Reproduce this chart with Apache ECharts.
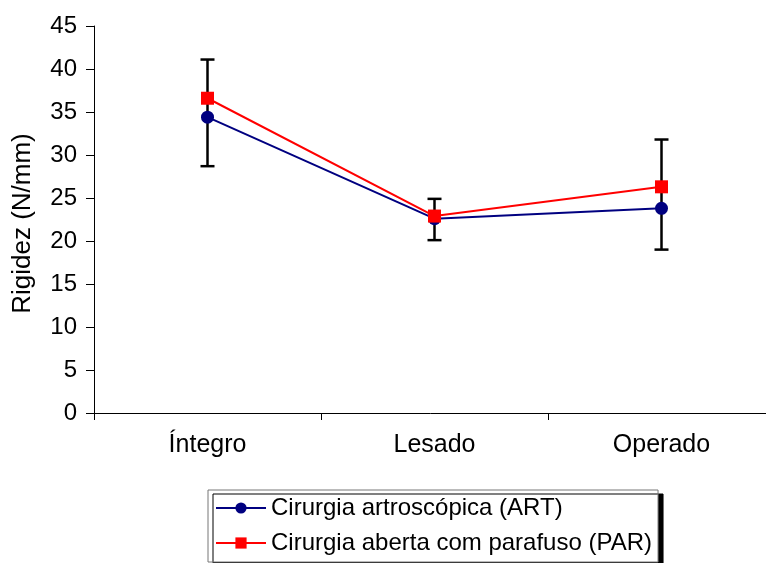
<!DOCTYPE html>
<html>
<head>
<meta charset="utf-8">
<script src="https://cdn.jsdelivr.net/npm/echarts@6/dist/echarts.min.js"></script>
<style>
  html, body { margin: 0; padding: 0; background: #fff; }
  #chart { width: 766px; height: 563px; }
</style>
</head>
<body>
<div id="chart"></div>
<script>
// dados
const categorias = ['Íntegro', 'Lesado', 'Operado'];
const art = [34.4, 22.6, 23.8];
const par = [36.6, 22.9, 26.3];
const erroAlto = [41.1, 24.9, 31.8];
const erroBaixo = [28.7, 20.1, 19.0];

const fonte = '"Liberation Sans", Arial, sans-serif';

const myChart = echarts.init(document.getElementById('chart'));

const errorData = categorias.map((c, i) => [i, erroBaixo[i], erroAlto[i]]);

const option = {
  animation: false,
  textStyle: { fontFamily: fonte },
  grid: {
    left: 94,
    top: 26,
    width: 681,
    bottom: 150,
    containLabel: false,
    outerBoundsMode: 'none'
  },
  legend: {
    orient: 'vertical',
    left: 208,
    top: 490,
    itemWidth: 50,
    itemHeight: 14,
    itemGap: 11,
    padding: [6, 6, 7, 7],
    backgroundColor: '#fff',
    borderColor: '#777',
    borderWidth: 1,
    shadowColor: '#000',
    shadowBlur: 0,
    shadowOffsetX: 5,
    shadowOffsetY: 4,
    textStyle: { fontFamily: fonte, fontSize: 24, color: '#000' },
    data: ['Cirurgia artroscópica (ART)', 'Cirurgia aberta com parafuso (PAR)']
  },
  xAxis: {
    type: 'category',
    data: categorias,
    boundaryGap: true,
    axisLine: { lineStyle: { color: '#000', width: 1 } },
    axisTick: { show: true, length: 7, alignWithLabel: false, lineStyle: { color: '#000' } },
    axisLabel: { color: '#000', fontSize: 25, margin: 20, fontFamily: fonte },
    splitLine: { show: false }
  },
  yAxis: {
    type: 'value',
    min: 0,
    max: 45,
    interval: 5,
    name: 'Rigidez (N/mm)',
    nameLocation: 'middle',
    nameRotate: 90,
    nameGap: 58,
    nameTextStyle: { color: '#000', fontSize: 26, fontFamily: fonte, padding: [0, 8, 0, 0] },
    axisLine: { show: true, lineStyle: { color: '#000', width: 1 } },
    axisTick: { show: true, length: 8, lineStyle: { color: '#000' } },
    axisLabel: { color: '#000', fontSize: 24, margin: 17, fontFamily: fonte },
    splitLine: { show: false }
  },
  series: [
    {
      type: 'custom',
      name: 'erro',
      z: 1,
      silent: true,
      data: errorData,
      renderItem: function (params, api) {
        const x = api.value(0);
        const lo = api.coord([x, api.value(1)]);
        const hi = api.coord([x, api.value(2)]);
        const half = 7;
        const style = { stroke: '#000', lineWidth: 2.5 };
        return {
          type: 'group',
          children: [
            { type: 'line', shape: { x1: hi[0], y1: hi[1], x2: lo[0], y2: lo[1] }, style },
            { type: 'line', shape: { x1: hi[0] - half, y1: hi[1], x2: hi[0] + half, y2: hi[1] }, style },
            { type: 'line', shape: { x1: lo[0] - half, y1: lo[1], x2: lo[0] + half, y2: lo[1] }, style }
          ]
        };
      }
    },
    {
      name: 'Cirurgia artroscópica (ART)',
      type: 'line',
      z: 3,
      data: art,
      symbol: 'circle',
      symbolSize: 13,
      lineStyle: { color: '#000080', width: 2 },
      itemStyle: { color: '#000080' }
    },
    {
      name: 'Cirurgia aberta com parafuso (PAR)',
      type: 'line',
      z: 4,
      data: par,
      symbol: 'rect',
      symbolSize: 13,
      lineStyle: { color: '#ff0000', width: 2 },
      itemStyle: { color: '#ff0000' }
    }
  ]
};

myChart.setOption(option);
window.addEventListener('resize', () => myChart.resize(), false);
</script>
</body>
</html>
